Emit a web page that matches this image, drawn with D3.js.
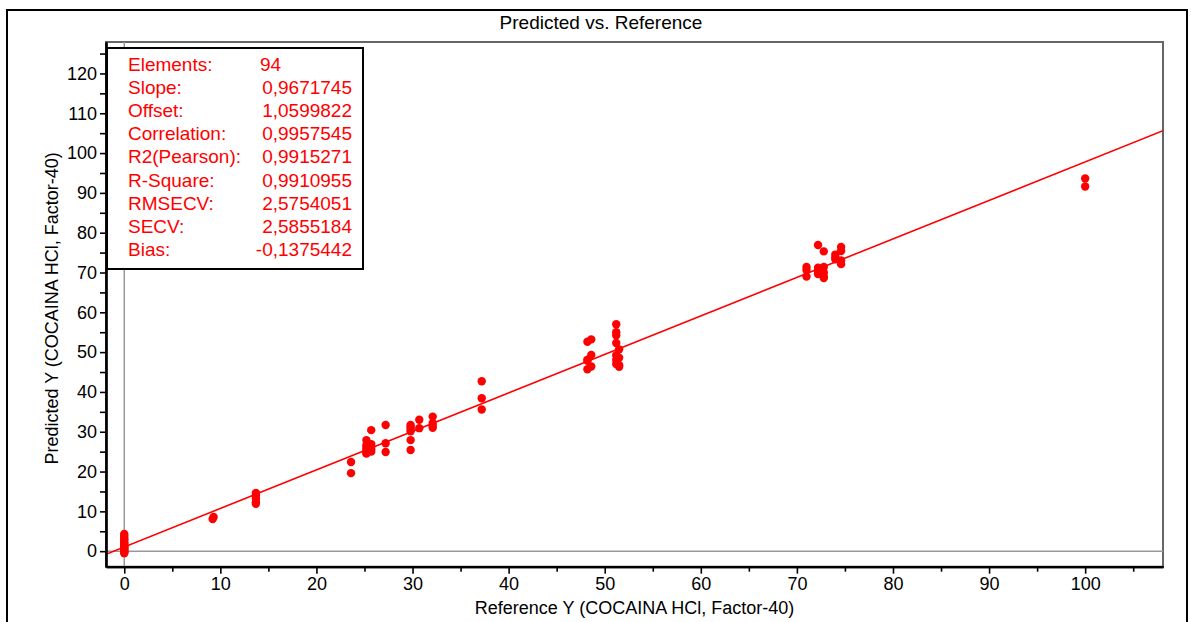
<!DOCTYPE html>
<html>
<head>
<meta charset="utf-8">
<script src="https://cdn.jsdelivr.net/npm/d3@7"></script>
<style>
  body { margin: 0; background: #fff; }
  text { font-family: "Liberation Sans", Arial, sans-serif; }
</style>
</head>
<body>
<div id="chart"></div>
<script>
// reference values (x) and predicted values (y), one entry per sample
var refValues = [
    0, 0, 0, 0, 0, 0, 0, 0, 0, 0, 0, 0, 0, 0, 0, 0, 0,
    9.2, 9.3,
    13.7, 13.7, 13.7, 13.7, 13.7,
    23.6, 23.6,
    25.2, 25.2, 25.2, 25.2, 25.2, 25.2,
    25.7, 25.7, 25.7, 25.7, 25.7,
    27.2, 27.2, 27.2,
    29.8, 29.8, 29.8, 29.8, 29.8, 29.8,
    30.7, 30.7,
    32.1, 32.1, 32.1, 32.1,
    37.2, 37.2, 37.2,
    48.2, 48.2, 48.2, 48.2,
    48.6, 48.6, 48.6,
    51.2, 51.2, 51.2, 51.2, 51.2, 51.2, 51.2,
    51.5, 51.5, 51.5, 51.5,
    71.0, 71.0, 71.0,
    72.2, 72.2, 72.2, 72.2,
    72.8, 72.8, 72.8, 72.8, 72.8,
    74.0, 74.0, 74.0,
    74.6, 74.6, 74.6, 74.6,
    100, 100
];
var predValues = [
    4.3, 3.9, 3.4, 3.0, 2.6, 2.2, 1.9, 1.5, 1.2, 0.9, 0.6, 0.3, 0.1, -0.1, -0.3, -0.5, 0.8,
    8.1, 8.6,
    14.6, 14.0, 13.2, 12.3, 11.9,
    22.4, 19.6,
    27.9, 26.6, 26.0, 25.4, 24.8, 24.5,
    30.4, 26.9, 26.2, 25.6, 25.0,
    31.7, 27.1, 24.9,
    31.7, 31.2, 30.7, 30.1, 27.9, 25.4,
    33.0, 30.9,
    33.8, 32.2, 31.0, 31.5,
    42.7, 38.4, 35.6,
    52.6, 48.1, 47.8, 45.7,
    53.2, 49.3, 46.4,
    57.0, 55.0, 54.2, 52.3, 49.2, 48.0, 47.0,
    50.7, 48.6, 46.7, 46.3,
    71.4, 70.6, 69.0,
    76.9, 71.2, 70.3, 69.6,
    75.3, 71.4, 70.0, 69.0, 68.6,
    74.5, 73.8, 73.3,
    76.4, 75.4, 73.0, 72.1,
    93.6, 91.6
];

var statLabels = ["Elements:", "Slope:", "Offset:", "Correlation:", "R2(Pearson):",
                  "R-Square:", "RMSECV:", "SECV:", "Bias:"];
var statValues = ["94", "0,9671745", "1,0599822", "0,9957545", "0,9915271",
                  "0,9910955", "2,5754051", "2,5855184", "-0,1375442"];

var slope = 0.9671745;
var offset = 1.0599822;

var xTicks = [0, 10, 20, 30, 40, 50, 60, 70, 80, 90, 100];
var xMinorTicks = [5, 15, 25, 35, 45, 55, 65, 75, 85, 95, 105];
var yTicks = [0, 10, 20, 30, 40, 50, 60, 70, 80, 90, 100, 110, 120];
var yMinorTicks = [5, 15, 25, 35, 45, 55, 65, 75, 85, 95, 105, 115, 125];

function init() {

    var w = 1191;
    var h = 622;

    var left = 106, right = 1163, top = 42, bottom = 566.7;

    var svg = d3.select("#chart")
                .append("svg")
                .attr("width", w)
                .attr("height", h);

    // outer frame (runs past the bottom of the window)
    svg.append("rect")
       .attr("x", 7).attr("y", 10)
       .attr("width", 1180).attr("height", 660)
       .attr("fill", "none")
       .attr("stroke", "#000")
       .attr("stroke-width", 2);

    svg.append("text")
       .attr("x", 601).attr("y", 29)
       .attr("text-anchor", "middle")
       .style("font-size", "19px")
       .text("Predicted vs. Reference");

    var xScale = d3.scaleLinear()
                   .domain([-1.9, 108.1])
                   .range([left, right]);

    var yScale = d3.scaleLinear()
                   .domain([-3.9, 127.9])
                   .range([bottom, top]);

    svg.append("defs").append("clipPath")
       .attr("id", "plotclip")
       .append("rect")
       .attr("x", left).attr("y", top)
       .attr("width", right - left).attr("height", bottom - top);

    // plot border, top and right in dark gray
    svg.append("rect")
       .attr("x", left).attr("y", top)
       .attr("width", right - left).attr("height", bottom - top)
       .attr("fill", "#fff")
       .attr("stroke", "#666")
       .attr("stroke-width", 2);

    var plot = svg.append("g").attr("clip-path", "url(#plotclip)");

    // zero lines
    plot.append("line")
        .attr("x1", xScale(0)).attr("x2", xScale(0))
        .attr("y1", top).attr("y2", bottom)
        .attr("stroke", "#999").attr("stroke-width", 1.5);

    plot.append("line")
        .attr("x1", left).attr("x2", right)
        .attr("y1", yScale(0)).attr("y2", yScale(0))
        .attr("stroke", "#999").attr("stroke-width", 1.5);

    // regression line
    var xd = xScale.domain();
    plot.append("line")
        .attr("x1", xScale(xd[0])).attr("y1", yScale(slope * xd[0] + offset))
        .attr("x2", xScale(xd[1])).attr("y2", yScale(slope * xd[1] + offset))
        .attr("stroke", "#ff0000").attr("stroke-width", 1.6);

    plot.selectAll("circle")
        .data(refValues)
        .enter()
        .append("circle")
        .attr("cx", function(d) { return xScale(d); })
        .attr("cy", function(d, i) { return yScale(predValues[i]); })
        .attr("r", 4.2)
        .attr("fill", "#ff0000");

    // axes
    var xAxis = d3.axisBottom(xScale)
                  .tickValues(xTicks)
                  .tickSize(7)
                  .tickPadding(4)
                  .tickSizeOuter(0);

    var xMinor = d3.axisBottom(xScale)
                   .tickValues(xMinorTicks)
                   .tickSize(5)
                   .tickFormat("")
                   .tickSizeOuter(0);

    var yAxis = d3.axisLeft(yScale)
                  .tickValues(yTicks)
                  .tickSize(6)
                  .tickPadding(3)
                  .tickSizeOuter(0);

    var yMinor = d3.axisLeft(yScale)
                   .tickValues(yMinorTicks)
                   .tickSize(6)
                   .tickFormat("")
                   .tickSizeOuter(0);

    [xMinor, xAxis].forEach(function(ax) {
        svg.append("g")
           .attr("class", "axis")
           .attr("transform", "translate(0, " + bottom + ")")
           .call(ax);
    });

    [yMinor, yAxis].forEach(function(ax) {
        svg.append("g")
           .attr("class", "axis")
           .attr("transform", "translate(" + left + ", 0)")
           .call(ax);
    });

    svg.selectAll(".axis path").attr("stroke", "#000").attr("stroke-width", 2.2);
    svg.selectAll(".axis line").attr("stroke", "#000").attr("stroke-width", 1.6);
    svg.selectAll(".axis text")
       .attr("fill", "#000")
       .style("font-family", "'Liberation Sans', Arial, sans-serif")
       .style("font-size", "18px");

    svg.append("text")
       .attr("x", (left + right) / 2).attr("y", 614)
       .attr("text-anchor", "middle")
       .style("font-size", "18px")
       .text("Reference Y (COCAINA HCl, Factor-40)");

    svg.append("text")
       .attr("transform", "translate(58, " + ((top + bottom) / 2 + 4) + ") rotate(-90)")
       .attr("text-anchor", "middle")
       .style("font-size", "18px")
       .text("Predicted Y (COCAINA HCl, Factor-40)");

    // statistics box
    var box = svg.append("g");
    box.append("rect")
       .attr("x", 107).attr("y", 48)
       .attr("width", 256).attr("height", 221)
       .attr("fill", "#fff")
       .attr("stroke", "#000")
       .attr("stroke-width", 2);

    box.selectAll(".lab")
       .data(statLabels)
       .enter()
       .append("text")
       .attr("class", "lab")
       .attr("x", 128)
       .attr("y", function(d, i) { return 71 + i * 23.1; })
       .attr("fill", "#ff0000")
       .style("font-size", "19px")
       .text(function(d) { return d; });

    box.selectAll(".val")
       .data(statValues)
       .enter()
       .append("text")
       .attr("class", "val")
       .attr("x", function(d, i) { return i === 0 ? 260 : 352; })
       .attr("y", function(d, i) { return 71 + i * 23.1; })
       .attr("text-anchor", function(d, i) { return i === 0 ? "start" : "end"; })
       .attr("fill", "#ff0000")
       .style("font-size", "19px")
       .text(function(d) { return d; });
}

window.onload = init;
</script>
</body>
</html>
